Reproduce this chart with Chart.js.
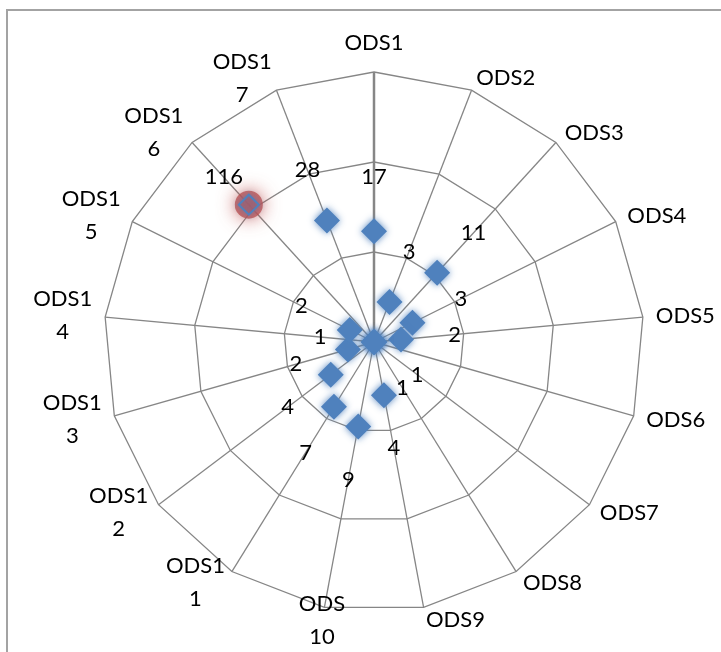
<!DOCTYPE html>
<html>
<head>
<meta charset="utf-8">
<script src="https://cdn.jsdelivr.net/npm/chart.js@4"></script>
<style>
    body { margin: 0; background: #fff; overflow: hidden; }
    .frame { position: absolute; left: 6px; top: 9px; width: 800px; height: 800px; border: 2px solid #a3a3a3; }
    #odsChart { position: absolute; left: 0; top: 0; }
</style>
</head>
<body>
<div class="frame"></div>
<canvas id="odsChart" width="721" height="652"></canvas>
<script>
const categories = ['ODS1', 'ODS2', 'ODS3', 'ODS4', 'ODS5', 'ODS6', 'ODS7', 'ODS8', 'ODS9',
    'ODS10', 'ODS11', 'ODS12', 'ODS13', 'ODS14', 'ODS15', 'ODS16', 'ODS17'];
const values = [17, 3, 11, 3, 2, null, 1, 1, 4, 9, 7, 4, 2, 1, 2, 116, 28];
const tickValues = [1, 10, 100, 1000]; // log scale rings
const highlighted = 'ODS16';

const hiIndex = categories.indexOf(highlighted);
const logValues = values.map(v => v == null ? null : Math.log10(v));
const FONT = '22px Lato';
const LINE = 33;

// Excel-like wrapping of the long names
function wrapLabel(name) {
    if (name === 'ODS10') return ['ODS', '10'];
    return name.length > 4 ? [name.slice(0, 4), name.slice(4)] : [name];
}

// soft edges on the markers
const glow = {
    id: 'glow',
    beforeDatasetDraw(chart, args) {
        const ds = chart.data.datasets[args.index];
        chart.ctx.save();
        chart.ctx.shadowColor = ds.glowColor;
        chart.ctx.shadowBlur = ds.glowBlur;
    },
    afterDatasetDraw(chart) {
        chart.ctx.restore();
    }
};

// category names placed like Excel: centred on the spoke end, lines centred
const categoryLabels = {
    id: 'categoryLabels',
    afterDraw(chart) {
        const ctx = chart.ctx;
        const scale = chart.scales.r;
        ctx.save();
        ctx.font = FONT;
        ctx.fillStyle = '#000';
        ctx.textAlign = 'center';
        ctx.textBaseline = 'middle';
        categories.forEach((name, i) => {
            const lines = wrapLabel(name);
            const p = scale.getPointPosition(i, scale.drawingArea + 13);
            const s = Math.sin(scale.getIndexAngle(i));
            const w = Math.max(...lines.map(l => ctx.measureText(l).width));
            let cx = p.x;
            if (!(lines.length > 1 && Math.abs(s) < 0.25)) {
                if (s > 0.01) cx = p.x + w / 2;
                else if (s < -0.01) cx = p.x - w / 2;
            }
            let cy = p.y;
            if (i === 0) cy = p.y - LINE / 2;
            lines.forEach((l, k) => {
                ctx.fillText(l, cx, cy + (k - (lines.length - 1) / 2) * LINE);
            });
        });
        ctx.restore();
    }
};

// value labels out along each spoke
const valueLabels = {
    id: 'valueLabels',
    afterDatasetsDraw(chart) {
        const ctx = chart.ctx;
        const scale = chart.scales.r;
        ctx.save();
        ctx.font = FONT;
        ctx.fillStyle = '#000';
        ctx.textAlign = 'center';
        ctx.textBaseline = 'middle';
        values.forEach((v, i) => {
            if (v == null) return;
            const d = scale.getDistanceFromCenterForValue(logValues[i]);
            const p = scale.getPointPosition(i, d + (d > 160 ? 37 : 54));
            ctx.fillText(String(v), p.x, p.y);
        });
        ctx.restore();
    }
};

const ctx = document.getElementById('odsChart').getContext('2d');

new Chart(ctx, {
    type: 'radar',
    data: {
        labels: categories,
        datasets: [{
            label: 'ODS',
            data: logValues,
            showLine: false,
            fill: false,
            borderWidth: 0,
            backgroundColor: 'transparent',
            pointStyle: 'rectRot',
            pointRadius: c => c.dataIndex === hiIndex ? 10 : 13,
            pointBackgroundColor: c => c.dataIndex === hiIndex ? 'rgba(192,80,77,0.5)' : '#4f81bd',
            pointBorderColor: '#4f81bd',
            pointBorderWidth: c => c.dataIndex === hiIndex ? 2 : 0,
            glowColor: 'rgba(79,129,189,0.9)',
            glowBlur: 7
        }, {
            label: 'highlight',
            data: logValues.map((v, i) => i === hiIndex ? v : null),
            showLine: false,
            fill: false,
            borderWidth: 0,
            backgroundColor: 'transparent',
            pointStyle: 'circle',
            pointRadius: 14,
            pointBackgroundColor: 'rgba(192,80,77,0.8)',
            pointBorderWidth: 0,
            glowColor: '#c0504d',
            glowBlur: 18
        }]
    },
    options: {
        responsive: false,
        animation: false,
        layout: { padding: { top: 72, bottom: 40, left: 104, right: 77 } },
        plugins: {
            legend: { display: false },
            tooltip: { enabled: false }
        },
        scales: {
            r: {
                min: Math.log10(tickValues[0]),
                max: Math.log10(tickValues[tickValues.length - 1]),
                ticks: { stepSize: 1, display: false },
                grid: { color: '#868686', lineWidth: 1.3 },
                angleLines: {
                    color: '#868686',
                    lineWidth: c => c.index === 0 ? 2.5 : 1.3
                },
                pointLabels: { display: false }
            }
        }
    },
    plugins: [glow, valueLabels, categoryLabels]
});
</script>
</body>
</html>
